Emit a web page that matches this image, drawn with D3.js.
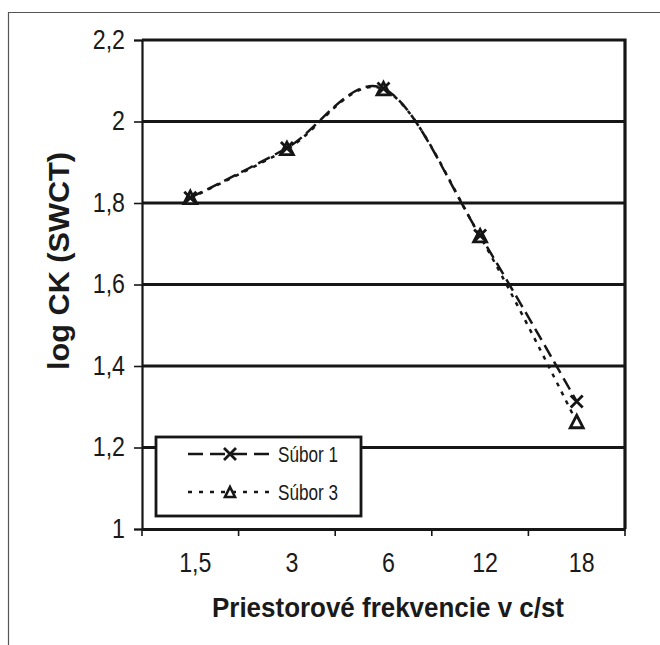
<!DOCTYPE html>
<html><head><meta charset="utf-8">
<script src="https://cdn.jsdelivr.net/npm/d3@7"></script>
<style>
html,body{margin:0;padding:0;background:#fff;}
svg{display:block;}
text{font-family:"Liberation Sans",Arial,sans-serif;fill:#1a1a1a;}
</style></head>
<body>
<svg id="c" width="660" height="645"></svg>
<script>
const categories = ["1,5", "3", "6", "12", "18"];
const subor1 = [1.813, 1.935, 2.081, 1.72, 1.313];
const subor3 = [1.812, 1.932, 2.079, 1.718, 1.262];
const seriesNames = ["Súbor 1", "Súbor 3"];
const yTicks = [1, 1.2, 1.4, 1.6, 1.8, 2, 2.2];
const yTickLabels = ["1", "1,2", "1,4", "1,6", "1,8", "2", "2,2"];
const xTitle = "Priestorové frekvencie v c/st";
const yTitle = "log CK (SWCT)";

const svg = d3.select("#c");
const L = 142, R = 625, T = 40, B = 529;
const ink = "#161616";

svg.append("path").attr("d", "M8.5,645 V12.5 H660").attr("fill", "none").attr("stroke", "#555").attr("stroke-width", 1.2);

const x = d3.scaleBand().domain(categories).range([L, R]).paddingInner(0).paddingOuter(0);
const y = d3.scaleLinear().domain([1, 2.2]).range([B, T]);
const cx = d => x(d) + x.bandwidth() / 2;

svg.append("g").selectAll("line").data(yTicks.filter(v => v > 1 && v < 2.2)).join("line")
  .attr("x1", L).attr("x2", R).attr("y1", d => y(d)).attr("y2", d => y(d))
  .attr("stroke", ink).attr("stroke-width", 3);

svg.append("path").attr("d", `M${L},${y(2.2)} H${R} V${B}`).attr("fill", "none").attr("stroke", ink).attr("stroke-width", 3.2);

const ya = svg.append("g").attr("transform", `translate(${L},0)`)
  .call(d3.axisLeft(y).tickValues(yTicks).tickSize(8).tickPadding(9)
    .tickFormat((d, i) => yTickLabels[i]));
ya.select(".domain").attr("stroke", ink).attr("stroke-width", 2.2);
ya.selectAll(".tick line").attr("stroke", ink).attr("stroke-width", 1.6);
ya.selectAll(".tick text").attr("font-size", 27).attr("font-family", "Liberation Sans, Arial, sans-serif")
  .attr("fill", ink).attr("transform", "scale(0.86,1)").attr("x", -17 / 0.86).attr("dy", "0.3em");

const xa = svg.append("g").attr("transform", `translate(0,${B})`)
  .call(d3.axisBottom(x).tickSize(0).tickPadding(0));
xa.select(".domain").attr("stroke", ink).attr("stroke-width", 3);
xa.selectAll(".tick text").attr("font-size", 27).attr("font-family", "Liberation Sans, Arial, sans-serif")
  .attr("fill", ink).attr("transform", "scale(0.86,1)").attr("x", 5 / 0.86).attr("y", 43).attr("dy", 0);
const bounds = categories.map(c => x(c)).concat([x(categories[categories.length - 1]) + x.bandwidth()]);
svg.append("g").selectAll("line").data(bounds).join("line")
  .attr("x1", d => d).attr("x2", d => d).attr("y1", B).attr("y2", B + 7)
  .attr("stroke", ink).attr("stroke-width", 1.6);

const line = d3.line().x((d, i) => cx(categories[i])).y(d => y(d)).curve(d3.curveCardinal.tension(0));
svg.append("path").datum(subor3).attr("d", line).attr("fill", "none").attr("stroke", ink)
  .attr("stroke-width", 2.5).attr("stroke-dasharray", "4,6");
svg.append("path").datum(subor1).attr("d", line).attr("fill", "none").attr("stroke", ink)
  .attr("stroke-width", 2.5).attr("stroke-dasharray", "13,6");

function tri(g, px, py) {
  g.append("path").attr("d", `M${px},${py - 7} L${px + 6.5},${py + 5.5} L${px - 6.5},${py + 5.5} Z`)
    .attr("fill", "#fff").attr("stroke", ink).attr("stroke-width", 2.8);
}
function cross(g, px, py) {
  g.append("path").attr("d", `M${px - 6},${py - 6} L${px + 6},${py + 6} M${px + 6},${py - 6} L${px - 6},${py + 6}`)
    .attr("stroke", ink).attr("stroke-width", 2.8).attr("fill", "none");
}
const mg = svg.append("g");
subor3.forEach((v, i) => tri(mg, cx(categories[i]), y(v)));
subor1.forEach((v, i) => cross(mg, cx(categories[i]), y(v)));

const lg = svg.append("g");
lg.append("rect").attr("x", 156).attr("y", 437).attr("width", 205).attr("height", 79)
  .attr("fill", "#fff").attr("stroke", ink).attr("stroke-width", 2.8);
const legY = [454, 492];
lg.append("line").attr("x1", 188).attr("x2", 273).attr("y1", legY[0]).attr("y2", legY[0])
  .attr("stroke", ink).attr("stroke-width", 2.6).attr("stroke-dasharray", "15,7");
cross(lg, 230, legY[0]);
lg.append("line").attr("x1", 188).attr("x2", 273).attr("y1", legY[1]).attr("y2", legY[1])
  .attr("stroke", ink).attr("stroke-width", 2.6).attr("stroke-dasharray", "4,7");
lg.append("path").attr("d", `M230,${legY[1] - 5} L235,${legY[1] + 5} L225,${legY[1] + 5} Z`)
  .attr("fill", "#fff").attr("stroke", ink).attr("stroke-width", 2.6);
lg.selectAll("text.leg").data(seriesNames).join("text").attr("class", "leg")
  .attr("x", 278).attr("y", (d, i) => legY[i] + 8).attr("font-size", 22)
  .attr("textLength", 60).attr("lengthAdjust", "spacingAndGlyphs").text(d => d);

svg.append("text").attr("x", 388).attr("y", 617).attr("text-anchor", "middle")
  .attr("font-size", 27).attr("font-weight", "bold").attr("textLength", 352)
  .attr("lengthAdjust", "spacingAndGlyphs").text(xTitle);
svg.append("text").attr("transform", "translate(69,261) rotate(-90)").attr("text-anchor", "middle")
  .attr("font-size", 29).attr("font-weight", "bold").attr("textLength", 218)
  .attr("lengthAdjust", "spacingAndGlyphs").text(yTitle);
</script>
</body></html>
